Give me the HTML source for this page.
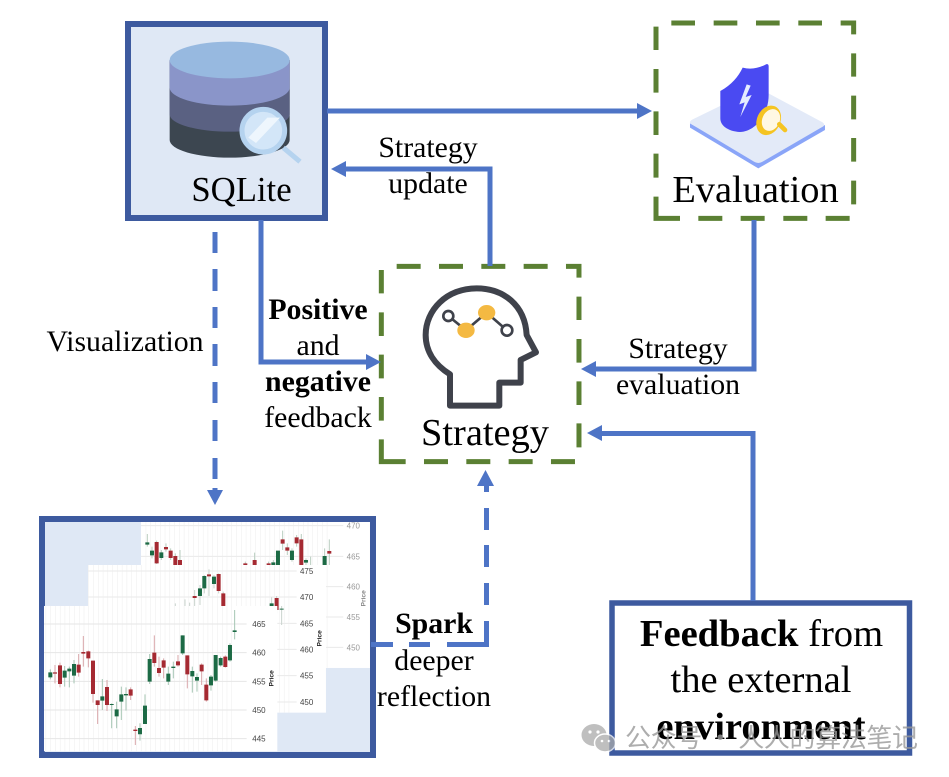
<!DOCTYPE html>
<html><head><meta charset="utf-8"><style>
html,body{margin:0;padding:0;background:#fff}
svg{display:block}
text{font-family:"Liberation Serif","Noto Serif CJK SC",serif;fill:#000;text-anchor:middle}
.b{font-weight:bold}
.s{font-size:29.8px}
.l{font-size:38.6px}
.a{stroke:#4e74c6;stroke-width:5;fill:none}
.h{fill:#4e74c6;stroke:none}
.g{stroke:#5b8033;stroke-width:15;fill:none}
.ax{font-family:"Liberation Sans",sans-serif;fill:#444;font-size:24px;text-anchor:start}
</style></head><body>
<svg width="949" height="777" viewBox="0 0 949 777" xmlns="http://www.w3.org/2000/svg">
<defs>
<pattern id="v1" x="4" y="0" width="14.3" height="10" patternUnits="userSpaceOnUse"><path d="M0 0V10" stroke="#ececec" stroke-width="3"/></pattern>
<filter id="bl" x="-2%" y="-2%" width="104%" height="104%"><feGaussianBlur stdDeviation="0.5"/></filter>
</defs>

<!-- SQLite box -->
<rect x="128" y="24" width="197" height="194" fill="#dfe8f5" stroke="#3d5a9f" stroke-width="6"/>
<g transform="translate(120 15) scale(.3333)">
<path d="M149 135V375A180 53 0 0 0 509 375V135z" fill="#3c4650"/>
<path d="M149 135V298A180 52 0 0 0 509 298V135z" fill="#5a6182"/>
<path d="M149 135V218A180 54 0 0 0 509 218V135z" fill="#8a95c9"/>
<ellipse cx="329" cy="135" rx="180" ry="55" fill="#97b9e0"/>
<path d="M490 398L540 440" stroke="#b5d3ef" stroke-width="15" fill="none"/>
<circle cx="430" cy="347" r="64" fill="#d3e6f8" stroke="#b5d3ef" stroke-width="15"/>
<path d="M385 368L442 308H480L408 384z" fill="#eef6fd"/>
</g>
<text x="241.500" y="201" font-size="34.700">SQLite</text>

<!-- Evaluation box -->
<g transform="translate(640 15) scale(.3333)">
<path class="g" d="M94 24H165M221 24H292M348 24H419M475 24H546M602 24H641V58M641 115V185M641 242V313M641 369V440M641 497V568M175 610H247M302 610H374M430 610H502M557 610H629M48 35V105M48 162V233M48 289V360M48 416V488M48 545V610H120"/>
<path d="M150 338L355 460L555 345V330L355 440L150 325z" fill="#8aa5f8"/>
<path d="M150 325Q148 318 158 313L345 222Q355 218 365 224L548 322Q556 328 550 334L368 440Q355 448 342 440z" fill="#e3eaf8"/>
<path d="M241 228C275 210 295 185 308 158C335 165 360 158 378 148C384 146 386 150 386 154V240C386 300 345 350 300 351C270 350 241 335 241 310z" fill="#4a4af2"/>
<path d="M320 208L298 268L314 262L301 306L335 240L317 246L332 212z" fill="#e6ecff"/>
<ellipse cx="386" cy="316" rx="35" ry="46" transform="rotate(25 386 316)" fill="#f5c422"/>
<ellipse cx="393" cy="315" rx="26" ry="34" transform="rotate(25 393 315)" fill="#fff8e2"/>
<path d="M418 328L435 345" stroke="#f5c422" stroke-width="14" stroke-linecap="round"/>
</g>
<text x="755.500" y="202" font-size="38.400">Evaluation</text>

<!-- Strategy box -->
<g transform="translate(370 255) scale(.3333)">
<path class="g" d="M80 34H152M207 34H279M334 34H406M461 34H533M588 34H627V68M627 125V195M627 252V323M627 379V450M627 505V577M162 620H234M289 620H361M416 620H488M543 620H615M34 45V115M34 172V243M34 299V370M34 426V497M34 553V620H107"/>
<path d="M240 358V452H388V383H452V315L498 292L470 240C465 150 400 100 320 100C230 100 167 165 167 240C167 290 195 330 240 358z" fill="none" stroke="#3f424b" stroke-width="18" stroke-linejoin="round"/>
<path d="M235 183L288 226L350 173L411 226" fill="none" stroke="#3f424b" stroke-width="8"/>
<circle cx="235" cy="183" r="15" fill="#fff" stroke="#3f424b" stroke-width="8"/>
<circle cx="411" cy="226" r="16" fill="#fff" stroke="#3f424b" stroke-width="8"/>
<ellipse cx="288" cy="226" rx="26" ry="23" fill="#f4b942"/>
<ellipse cx="350" cy="173" rx="26" ry="23" fill="#f4b942"/>
</g>
<text x="485" y="445" font-size="38.400">Strategy</text>

<!-- chart panel -->
<rect x="42" y="519" width="331" height="236" fill="#dfe8f5" stroke="#3d5a9f" stroke-width="6"/>
<g transform="translate(30 510) scale(.3333)" filter="url(#bl)">
<!-- back chart -->
<rect x="333" y="36" width="687" height="438" fill="#fff"/>
<rect x="345" y="36" width="555" height="438" fill="url(#v1)"/>
<path d="M333 47H940M333 139H940M333 230H940M333 321H940M333 412H940" stroke="#eaeaea" stroke-width="3"/>
<path d="M352 72V110M366 110V145M380 92V162M394 120V150M408 100V125M422 115V150M436 130V165M450 120V165M646 155V165M674 128V165M716 155V165M730 150V165M758 62V120M772 100V135M786 115V155M800 75V110M814 72V165M828 145V165M842 140V165M884 115V165M898 88V165" stroke="#b9cdbf" stroke-width="3" fill="none"/>
<path d="M380 96V160M408 111V118M422 122V144M436 138V165M450 150V165M646 160V165M674 150V165M716 160V165M758 88V101M772 112V122M800 82V100M814 88V165M898 123V131" stroke="#a52a32" stroke-width="12" fill="none"/>
<path d="M352 97V104M366 122V136M394 127V144M730 157V165M744 122V165M786 122V150M828 150V158M884 138V165" stroke="#1f6b45" stroke-width="12" fill="none"/>
<g opacity=".55">
<text class="ax" x="950" y="56">470</text><text class="ax" x="950" y="148">465</text><text class="ax" x="950" y="239">460</text><text class="ax" x="950" y="330">455</text><text class="ax" x="950" y="421">450</text>
<text class="ax" transform="translate(1007 265) rotate(-90)" style="font-weight:bold;text-anchor:middle;font-size:20px;fill:#222">Price</text>
</g>
<!-- mid chart -->
<rect x="174" y="165" width="714" height="443" fill="#fff"/>
<rect x="174" y="165" width="615" height="443" fill="url(#v1)"/>
<path d="M174 183H800M174 261H800M174 340H800M174 418H800M174 497H800M174 576H800" stroke="#eaeaea" stroke-width="3"/>
<path d="M436 280V290M465 268V290M479 278V290M494 240V290M510 225V285M523 195V250M537 178V258M552 195V235M566 190V250M580 245V290M725 262V290M740 258V310M755 288V345" stroke="#c9d3cd" stroke-width="3" fill="none"/>
<path d="M494 258V264M537 193V199M566 192V243M580 250V288M740 264V300" stroke="#a52a32" stroke-width="12" fill="none"/>
<path d="M510 235V258M523 198V235M552 200V222M725 280V288M755 296V299" stroke="#1f6b45" stroke-width="12" fill="none"/>
<text class="ax" x="810" y="192">475</text><text class="ax" x="810" y="270">470</text><text class="ax" x="810" y="349">465</text><text class="ax" x="810" y="427">460</text><text class="ax" x="810" y="506">455</text><text class="ax" x="810" y="585">450</text>
<text class="ax" transform="translate(874 385) rotate(-90)" style="font-weight:bold;text-anchor:middle;font-size:20px;fill:#222">Price</text>
<!-- front chart -->
<rect x="42" y="288" width="700" height="436" fill="#fff"/>
<rect x="42" y="288" width="574" height="436" fill="url(#v1)"/>
<path d="M42 342H650M42 428H650M42 514H650M42 600H650M42 686H650" stroke="#e6e6e6" stroke-width="3"/>
<path d="M61 478V508M104 468V530M118 470V532M132 450V520M217 507V600M245 580V655M260 575V655M274 530V630M288 532V602M330 640V692M345 553V642M359 432V522M415 470V525M430 455V505M458 376V435M487 470V548M501 490V545M543 495V542M557 435V515M572 440V470M600 400V455M614 300V388" stroke="#a6c6b4" stroke-width="3" fill="none"/>
<path d="M75 465V520M90 458V532M146 432V500M160 378V470M175 422V472M189 452V578M203 571V642M231 510V603M302 532V570M316 648V705M373 376V470M387 440V500M401 445V505M444 435V470M472 436V535M515 460V525M529 505V575M586 436V473" stroke="#d9a7aa" stroke-width="3" fill="none"/>
<path d="M75 487V491M90 466V522M146 464V488M160 426V431M175 424V445M189 452V552M203 571V585M231 531V585M302 538V557M316 659V663M373 428V459M387 474V489M401 451V473M444 454V466M472 436V493M515 464V484M529 524V571M586 440V471" stroke="#a52a32" stroke-width="12" fill="none"/>
<path d="M61 487V502M104 482V503M118 476V484M132 462V497M217 559V572M245 582V585M260 598V619M274 553V575M288 552V556M330 654V673M345 587V642M359 447V515M415 491V515M430 470V474M458 376V430M487 483V499M501 501V512M543 500V526M557 435V512M572 444V466M600 405V451M614 361V366" stroke="#1f6b45" stroke-width="12" fill="none"/>
<text class="ax" x="667" y="351">465</text><text class="ax" x="667" y="437">460</text><text class="ax" x="667" y="523">455</text><text class="ax" x="667" y="609">450</text><text class="ax" x="667" y="695">445</text>
<text class="ax" transform="translate(731 505) rotate(-90)" style="font-weight:bold;text-anchor:middle;font-size:20px;fill:#222">Price</text>
</g>

<!-- Feedback box -->
<rect x="612" y="603" width="297.500" height="150" fill="#fff" stroke="#3d5a9f" stroke-width="5.500"/>

<!-- connectors -->
<path class="a" d="M327 111H640"/><path class="h" d="M652 111L637 103V119z"/>
<path class="a" d="M490 266V169H344"/><path class="h" d="M331 169L346 161V177z"/>
<path class="a" d="M261 220V362H368"/><path class="h" d="M381 362L366 354V370z"/>
<path class="a" d="M754 220V369H594"/><path class="h" d="M581 369L596 361V377z"/>
<path class="a" d="M753 601V433.500H600"/><path class="h" d="M587 433L602 425V441z"/>
<path class="a" d="M215 232V253M215 269V291M215 307V328M215 344V366M215 382V403M215 420V441M215 458V479M215 488V494"/>
<path class="h" d="M215 505L207 490H223z"/>
<path class="a" d="M371 644.500H393M409 644.500H430M447 644.500H468M468 644.500H486.500V621M486.500 605V583M486.500 567V545M486.500 530V508M486.500 492V484"/>
<path class="h" d="M485.500 470L477 486H494z"/>

<!-- labels -->
<text class="s" x="428" y="157">Strategy</text>
<text class="s" x="428" y="193">update</text>
<text class="s" x="125" y="351">Visualization</text>
<text class="s b" x="318" y="319">Positive</text>
<text class="s" x="318" y="355">and</text>
<text class="s b" x="318" y="391">negative</text>
<text class="s" x="318" y="427">feedback</text>
<text class="s" x="678" y="358">Strategy</text>
<text class="s" x="678" y="394">evaluation</text>
<text class="s b" x="434" y="633">Spark</text>
<text class="s" x="434" y="670">deeper</text>
<text class="s" x="434" y="706">reflection</text>
<text class="l" x="761.500" y="646"><tspan class="b">Feedback</tspan> from</text>
<text class="l" x="761" y="692">the external</text>
<text class="l b" x="761" y="739">environment</text>

<!-- watermark -->
<g opacity=".75">
<ellipse cx="594" cy="735" rx="12.500" ry="11" fill="#aaa"/>
<ellipse cx="605" cy="743" rx="10.500" ry="9" fill="#aaa" stroke="#fff" stroke-width="1.500"/>
<circle cx="590" cy="732" r="1.600" fill="#fff"/><circle cx="598" cy="732" r="1.600" fill="#fff"/>
<circle cx="602" cy="741" r="1.300" fill="#fff"/><circle cx="609" cy="741" r="1.300" fill="#fff"/>
</g>
<text x="771.500" y="747" font-size="26px" textLength="293" lengthAdjust="spacing" style="font-family:'Noto Sans CJK SC',sans-serif;fill:#999;opacity:.8">公众号 · 人人的算法笔记</text>
</svg>
</body></html>
